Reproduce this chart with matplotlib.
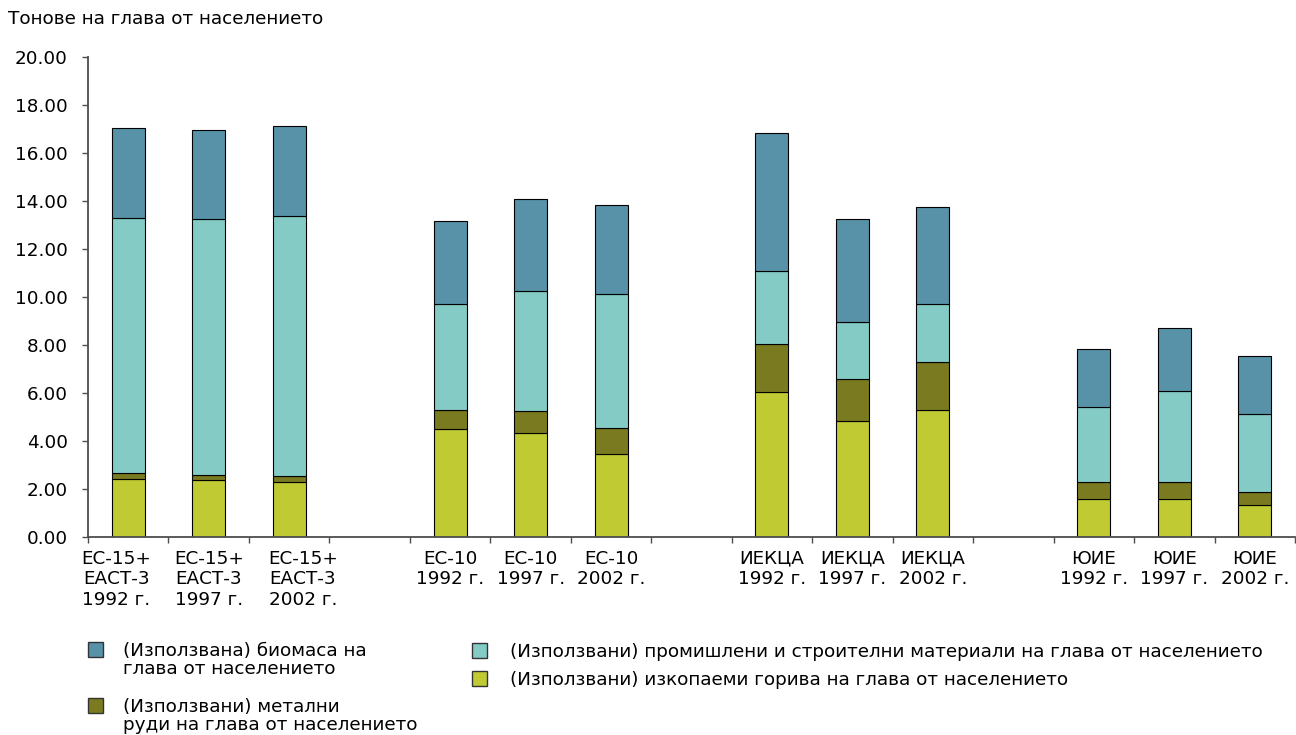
import matplotlib
matplotlib.use("Agg")
import matplotlib.pyplot as plt
from matplotlib.patches import Rectangle
import numpy as np

plt.rcParams["font.family"] = ["DejaVu Sans"]
plt.rcParams["font.size"] = 13.2

W, H = 1296, 735

# регионите и годините (по три стълба на група)
regions = ["ЕС-15+\nЕАСТ-3", "ЕС-10", "ИЕКЦА", "ЮИЕ"]
years = ["1992 г.", "1997 г.", "2002 г."]

# тонове на глава от населението
fossil = [2.40, 2.36, 2.31, 4.52, 4.32, 3.47, 6.04, 4.83, 5.28, 1.58, 1.58, 1.35]
metal = [0.28, 0.24, 0.23, 0.76, 0.92, 1.09, 2.00, 1.74, 2.01, 0.73, 0.73, 0.54]
industrial = [10.63, 10.64, 10.85, 4.42, 5.03, 5.58, 3.06, 2.40, 2.42, 3.12, 3.77, 3.22]
biomass = [3.75, 3.72, 3.75, 3.45, 3.80, 3.71, 5.75, 4.27, 4.04, 2.40, 2.62, 2.42]

names = {
    "biomass": "(Използвана) биомаса на\nглава от населението",
    "metal": "(Използвани) метални\nруди на глава от населението",
    "industrial": "(Използвани) промишлени и строителни материали на глава от населението",
    "fossil": "(Използвани) изкопаеми горива на глава от населението",
}
colors = {
    "biomass": "#5892a8",
    "industrial": "#85cbc5",
    "metal": "#7a7b20",
    "fossil": "#c0ca33",
}

labels = [f"{r}\n{y}" for r in regions for y in years]
idx = np.arange(len(labels))
# празен слот между групите
pos = (idx // 3) * 4 + idx % 3 + 0.5
label_shift = np.array([-0.15, 0.0, 0.17] + [0.0] * 9)

fig = plt.figure(figsize=(W / 100, H / 100), dpi=100)
ax = fig.add_axes([88 / W, 198 / H, 1207 / W, 480 / H])

width = 0.41
bottom = np.zeros(len(labels))
for key, vals in [("fossil", fossil), ("metal", metal),
                  ("industrial", industrial), ("biomass", biomass)]:
    ax.bar(pos, vals, width, bottom=bottom, color=colors[key],
           edgecolor="black", linewidth=0.8, label=names[key])
    bottom += np.array(vals)

ax.set_xlim(0, 15)
ax.set_ylim(0, 20)
ax.set_yticks(np.arange(0, 20.1, 2))
ax.yaxis.set_major_formatter(matplotlib.ticker.FormatStrFormatter("%.2f"))

ax.set_xticks(np.arange(0, 16))
ax.set_xticklabels([])
ax.set_xticks(pos + label_shift, labels, minor=True)
ax.tick_params(axis="x", which="minor", length=0, pad=9)
ax.tick_params(axis="both", which="major", length=4.5, width=1.0,
               color="#4d4d4d", direction="out")
ax.tick_params(axis="y", pad=10)

for side in ["top", "right"]:
    ax.spines[side].set_visible(False)
for side in ["left", "bottom"]:
    ax.spines[side].set_color("#4d4d4d")
    ax.spines[side].set_linewidth(1.3)

fig.text(8 / W, 1 - 10 / H, "Тонове на глава от населението",
         ha="left", va="top")

# легенда в две колони, квадратчето е до първия ред на текста
legend_items = [
    ("biomass", 88, 642, 20),
    ("metal", 88, 698, 20),
    ("industrial", 472, 643, 23),
    ("fossil", 472, 671, 23),
]
box = 15
for key, x, y, gap in legend_items:
    fig.add_artist(Rectangle((x / W, 1 - (y + box) / H), box / W, box / H,
                             transform=fig.transFigure, facecolor=colors[key],
                             edgecolor="#333333", linewidth=1.0))
    fig.text((x + box + gap) / W, 1 - y / H, names[key],
             ha="left", va="top", linespacing=1.0)

fig.savefig("out.png", dpi=100)
